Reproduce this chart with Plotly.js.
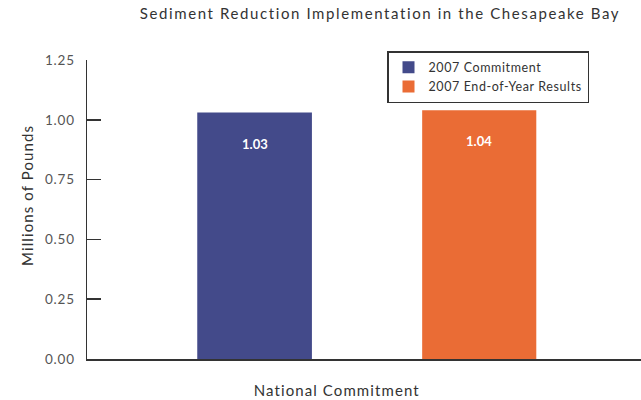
<!DOCTYPE html>
<html>
<head>
<meta charset="utf-8">
<script src="https://cdn.plot.ly/plotly-3.0.1.min.js"></script>
<style>
html,body{margin:0;padding:0;background:#fff;}
#chart{width:641px;height:400px;}
.gtitle{letter-spacing:1.6px;}
.legendtext{letter-spacing:0.6px;}
.ytick text{letter-spacing:0.8px;}
.spaced .annotation-text{letter-spacing:1.1px;}
</style>
</head>
<body>
<div id="chart"></div>
<script>
var categories = ["National Commitment"];
var seriesNames = ["2007 Commitment", "2007 End-of-Year Results"];
var commitment = [1.03];
var results = [1.04];
var yTickVals = [0, 0.25, 0.5, 0.75, 1.0, 1.25];
var yTickText = ["0.00", "0.25", "0.50", "0.75", "1.00", "1.25"];
var yTitle = "Millions of Pounds";

var colors = ["#434A8A", "#EA6C35"];
var offsets = [-0.301, 0.105];
var widths = [0.207, 0.206];
var seriesValues = [commitment, results];

var FONT = "Lato, 'Open Sans', sans-serif";

var traces = seriesValues.map(function (vals, i) {
  return {
    type: "bar",
    name: seriesNames[i],
    x: categories,
    y: vals,
    marker: { color: colors[i], line: { width: 0 } },
    offset: offsets[i],
    width: widths[i],
    hoverinfo: "skip"
  };
});

var annotations = [];
seriesValues.forEach(function (vals, i) {
  vals.forEach(function (v, j) {
    annotations.push({
      x: j + offsets[i] + widths[i] / 2,
      y: v,
      xref: "x",
      yref: "y",
      text: v.toFixed(2),
      showarrow: false,
      yshift: -31,
      yanchor: "middle",
      font: { family: FONT, size: 13, color: "#ffffff", weight: 700 }
    });
  });
});
var nBarLabels = annotations.length;
// x-axis title
annotations.push({
  x: (337 - 87) / 554,
  y: (359 - 390) / 299,
  xref: "paper",
  yref: "paper",
  text: categories[0],
  showarrow: false,
  xanchor: "center",
  yanchor: "middle",
  font: { family: FONT, size: 15, color: "#333333" }
});
// y-axis title
annotations.push({
  x: (27 - 87) / 554,
  y: (359 - 196) / 299,
  xref: "paper",
  yref: "paper",
  text: yTitle,
  textangle: -90,
  showarrow: false,
  xanchor: "center",
  yanchor: "middle",
  font: { family: FONT, size: 15, color: "#333333" }
});

var layout = {
  width: 641,
  height: 400,
  margin: { l: 87, r: 0, t: 60, b: 41, pad: 0 },
  paper_bgcolor: "#ffffff",
  plot_bgcolor: "#ffffff",
  font: { family: FONT, color: "#333333" },
  title: {
    text: "Sediment Reduction Implementation in the Chesapeake Bay",
    x: 380 / 641,
    xref: "container",
    xanchor: "center",
    y: 1 - 14 / 400,
    yref: "container",
    yanchor: "middle",
    font: { family: FONT, size: 15, color: "#333333" }
  },
  barmode: "group",
  showlegend: true,
  legend: {
    x: (387 - 87) / 554,
    y: (359 - 51) / 299,
    xanchor: "left",
    yanchor: "top",
    bgcolor: "#ffffff",
    bordercolor: "#333333",
    borderwidth: 1.5,
    font: { family: FONT, size: 12.5, color: "#333333" },
    tracegroupgap: 0,
    itemwidth: 30
  },
  xaxis: {
    type: "category",
    range: [-0.5, 0.5],
    showticklabels: false,
    ticks: "",
    showgrid: false,
    zeroline: false,
    showline: true,
    linecolor: "#333333",
    linewidth: 1.5
  },
  yaxis: {
    range: [0, 1.25],
    tickvals: yTickVals,
    ticktext: yTickText,
    ticks: "inside",
    ticklen: 14,
    tickwidth: 1.5,
    tickcolor: "#333333",
    showgrid: false,
    zeroline: false,
    showline: true,
    linecolor: "#333333",
    linewidth: 1.5,
    ticklabelstandoff: 8,
    tickfont: { family: FONT, size: 13.5, color: "#555555" }
  },
  annotations: annotations
};

Plotly.newPlot("chart", traces, layout, { displayModeBar: false, staticPlot: true }).then(function (gd) {
  var anns = gd.querySelectorAll(".annotation");
  for (var k = nBarLabels; k < anns.length; k++) anns[k].classList.add("spaced");
});
</script>
</body>
</html>
